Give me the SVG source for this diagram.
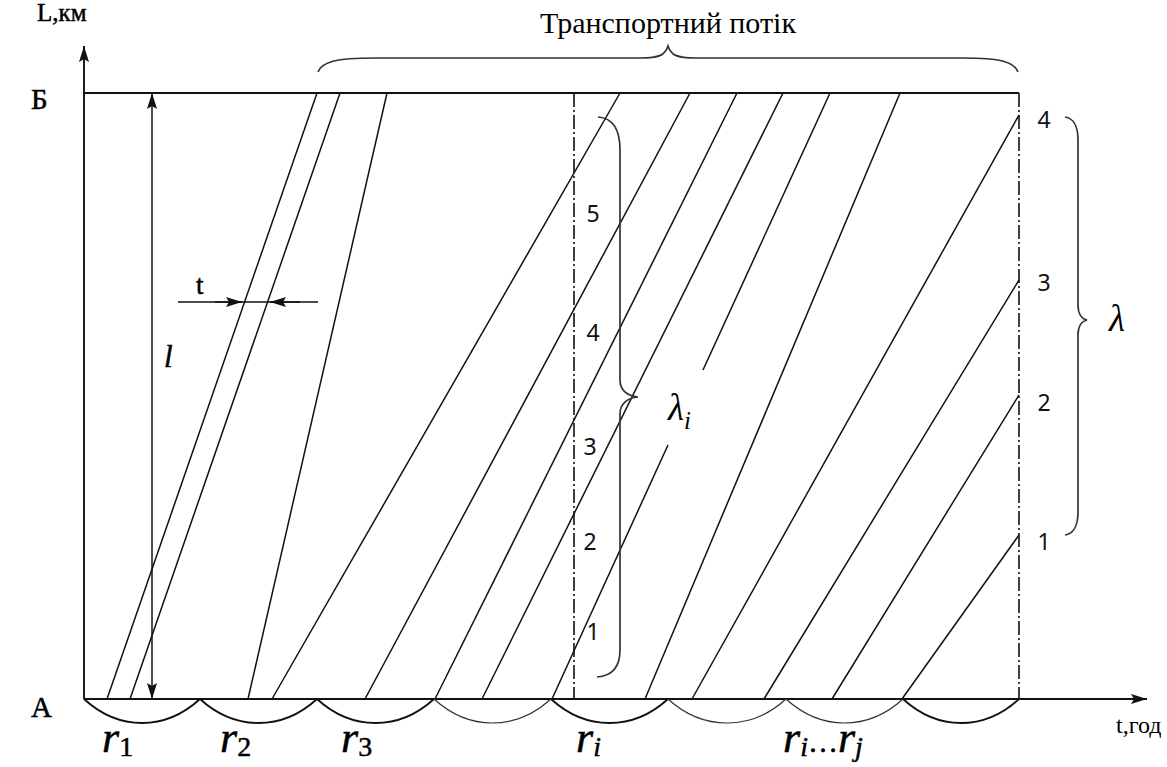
<svg xmlns="http://www.w3.org/2000/svg" width="1167" height="767" viewBox="0 0 1167 767">
<defs>
<style>
.ln{stroke:#111;stroke-width:1.5;fill:none}
.ax{stroke:#111;stroke-width:1.9;fill:none}
.arc{stroke:#111;stroke-width:1.9;fill:none}
.arcl{stroke:#333;stroke-width:1.2;fill:none}
.dd{stroke:#111;stroke-width:1.6;fill:none;stroke-dasharray:14 3 2 3}
.br{stroke:#333;stroke-width:1.7;fill:none}
.ser{font-family:"Liberation Serif","Times New Roman",serif;fill:#000}
.hv{stroke:#000;stroke-width:0.5}
.num{font-family:"Noto Sans","Open Sans",sans-serif;font-size:23px;fill:#111}
.it{font-family:"Liberation Serif","Times New Roman",serif;font-style:italic;fill:#000}
</style>
<marker id="ah" viewBox="0 0 16 10" refX="16" refY="5" markerWidth="16" markerHeight="10" markerUnits="userSpaceOnUse" orient="auto-start-reverse">
<path d="M0,0 L16,5 L0,10 L3,5 Z" fill="#111"/>
</marker>
</defs>
<rect width="1167" height="767" fill="#fff"/>

<g id="axes">
<line class="ax" x1="84" y1="699" x2="84" y2="46" marker-end="url(#ah)"/>
<line class="ax" x1="84" y1="699" x2="1147" y2="699" marker-end="url(#ah)"/>
<line class="ax" x1="84" y1="93" x2="1019" y2="93"/>
<line class="dd" x1="574" y1="93" x2="574" y2="699"/>
<line class="dd" x1="1019" y1="93" x2="1019" y2="699"/>
</g>

<g id="connectors">
<line class="ln" x1="107" y1="699" x2="317" y2="93"/>
<line class="ln" x1="130" y1="699" x2="340" y2="93"/>
<line class="ln" x1="248" y1="699" x2="387" y2="93"/>
<line class="ln" x1="272" y1="699" x2="620" y2="93"/>
<line class="ln" x1="365" y1="699" x2="690" y2="93"/>
<line class="ln" x1="435" y1="699" x2="737" y2="93"/>
<line class="ln" x1="482" y1="699" x2="783" y2="93"/>
<line class="ln" x1="552" y1="699" x2="668" y2="445"/>
<line class="ln" x1="703" y1="370" x2="830" y2="93"/>
<line class="ln" x1="645" y1="699" x2="900" y2="93"/>
<line class="ln" x1="692" y1="699" x2="1019" y2="115"/>
<line class="ln" x1="764" y1="699" x2="1019" y2="280"/>
<line class="ln" x1="832" y1="699" x2="1019" y2="395"/>
<line class="ln" x1="902" y1="699" x2="1019" y2="535"/>
<line class="ln" x1="152" y1="699" x2="152" y2="93" marker-start="url(#ah)" marker-end="url(#ah)"/>
<line class="ln" x1="178" y1="302" x2="318" y2="302"/>
<line class="ln" x1="215" y1="302" x2="242" y2="302" marker-end="url(#ah)"/>
<line class="ln" x1="300" y1="302" x2="270" y2="302" marker-end="url(#ah)"/>
</g>

<g id="arcs">
<path class="arc" d="M84,699 C119,731 165,731 200,699"/>
<path class="arc" d="M200,699 C235,731 282,731 317,699"/>
<path class="arc" d="M317,699 C352,731 399,731 434,699"/>
<path class="arcl" d="M434,699 C469,731 516,731 551,699"/>
<path class="arc" d="M551,699 C586,731 633,731 668,699"/>
<path class="arcl" d="M668,699 C703,731 751,731 786,699"/>
<path class="arcl" d="M786,699 C821,731 868,731 903,699"/>
<path class="arc" d="M903,699 C938,731 984,731 1019,699"/>
</g>

<g id="braces">
<path class="br" d="M318,72 C322,62 335,58 375,58 L640,58 C660,58 665,55 668,46 C671,55 676,58 696,58 L962,58 C1002,58 1014,62 1018,72"/>
<path class="br" d="M598,117 C612,118 620,128 620,150 L620,380 C620,390 627,396 638,397 C627,398 620,404 620,414 L620,650 C620,668 611,676 597,677"/>
<path class="br" d="M1065,117 C1073,118 1078,126 1078,140 L1078,305 C1078,314 1082,319 1087,320 C1082,321 1078,326 1078,335 L1078,512 C1078,526 1073,534 1065,535"/>
</g>

<g id="labels">
<text class="ser" x="668" y="33" font-size="30" text-anchor="middle">Транспортний потік</text>
<text class="ser hv" x="37" y="21" font-size="25">L,км</text>
<text class="ser hv" x="31" y="109" font-size="29">Б</text>
<text class="ser hv" x="31" y="717" font-size="29">А</text>
<text class="ser" x="1116" y="733" font-size="24">t,год</text>
<text class="ser hv" x="196" y="294" font-size="27">t</text>
<text class="it hv" x="164" y="367" font-size="31">l</text>
<text class="it" x="668" y="420" font-size="37">λ<tspan font-size="25" dy="9">i</tspan></text>
<text class="it" x="1109" y="331" font-size="37">λ</text>

<text class="num" x="593" y="222" text-anchor="middle">5</text>
<text class="num" x="593" y="341" text-anchor="middle">4</text>
<text class="num" x="590" y="455" text-anchor="middle">3</text>
<text class="num" x="590" y="550" text-anchor="middle">2</text>
<text class="num" x="593" y="640" text-anchor="middle">1</text>
<text class="num" x="1044" y="128" text-anchor="middle">4</text>
<text class="num" x="1044" y="291" text-anchor="middle">3</text>
<text class="num" x="1044" y="411" text-anchor="middle">2</text>
<text class="num" x="1044" y="550" text-anchor="middle">1</text>

<text class="it hv" x="102" y="752" font-size="44">r<tspan class="ser" font-style="normal" font-size="28" dy="4">1</tspan></text>
<text class="it hv" x="220" y="752" font-size="44">r<tspan class="ser" font-style="normal" font-size="28" dy="4">2</tspan></text>
<text class="it hv" x="341" y="752" font-size="44">r<tspan class="ser" font-style="normal" font-size="28" dy="4">3</tspan></text>
<text class="it hv" x="576" y="752" font-size="44">r<tspan font-size="28" dy="4">i</tspan></text>
<text class="it hv" x="783" y="752" font-size="44">r<tspan font-size="28" dy="4">i</tspan><tspan font-style="normal" font-size="30" dy="-4">…</tspan>r<tspan font-size="28" dy="4">j</tspan></text>
</g>
</svg>
